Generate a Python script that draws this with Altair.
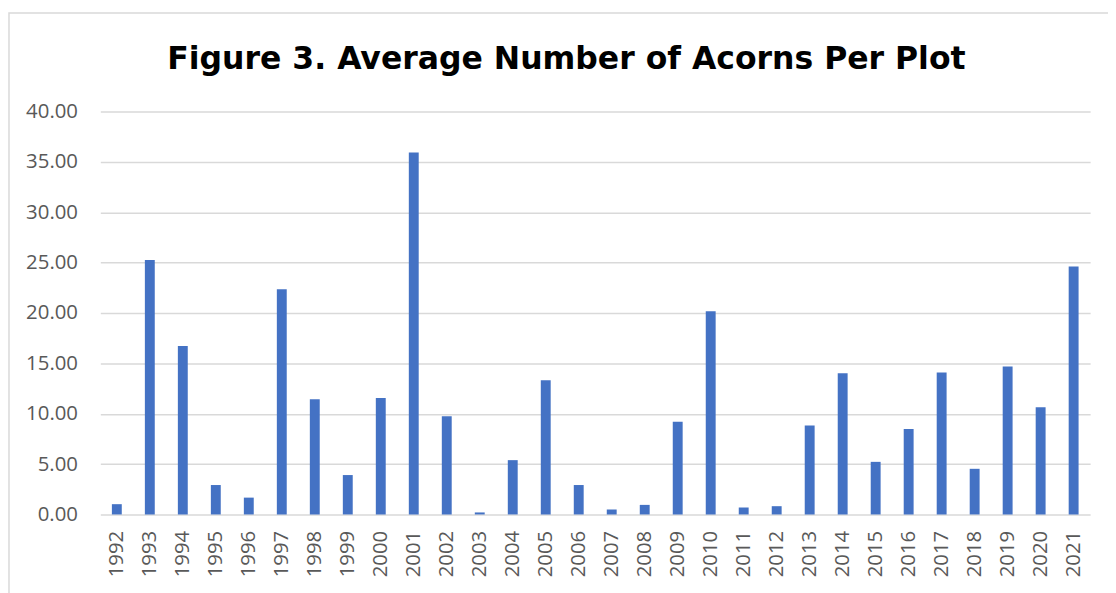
import altair as alt
import pandas as pd

years = [str(y) for y in range(1992, 2022)]
values = [1.02, 25.25, 16.72, 2.92, 1.67, 22.36, 11.43, 3.91, 11.56, 35.93,
          9.75, 0.20, 5.39, 13.33, 2.92, 0.49, 0.95, 9.20, 20.16, 0.69,
          0.82, 8.83, 14.02, 5.22, 8.47, 14.09, 4.53, 14.68, 10.64, 24.60]
y_ticks = [0, 5, 10, 15, 20, 25, 30, 35, 40]

df = pd.DataFrame({"Year": years, "Acorns": values})

W, H = 997, 406

border = alt.Chart(pd.DataFrame({"k": [0]})).mark_rect(
    filled=False, stroke="#d9d9d9", strokeWidth=1.5
).encode(
    x=alt.value(-92), x2=alt.value(W + 120),
    y=alt.value(-99), y2=alt.value(H + 150)
)

bars = alt.Chart(df).mark_bar(color="#4472C4").encode(
    x=alt.X("Year:N", sort=years, title=None,
            scale=alt.Scale(paddingInner=0.7, paddingOuter=0.35),
            axis=alt.Axis(labelAngle=-90, labelFontSize=20.5, labelColor="#595959",
                          labelFont="Open Sans", labelPadding=16, ticks=False,
                          domain=False, labelBaseline="middle", labelAlign="right")),
    y=alt.Y("Acorns:Q", title=None,
            scale=alt.Scale(domain=[0, 40], nice=False),
            axis=alt.Axis(values=y_ticks, format=".2f", labelFontSize=20.5,
                          labelColor="#595959", labelFont="Open Sans",
                          labelPadding=23, ticks=False, domain=False,
                          gridColor="#d9d9d9", gridWidth=1.5))
)

chart = alt.layer(border, bars).properties(
    width=W, height=H,
    autosize=alt.AutoSizeParams(type="none"),
    padding={"left": 93, "top": 102, "right": 18, "bottom": 80},
    title=alt.TitleParams("Figure 3. Average Number of Acorns Per Plot",
                          fontSize=31.7, font="DejaVu Sans", fontWeight="bold",
                          color="#000000", anchor="middle", frame="group",
                          baseline="alphabetic", offset=36, dx=-29, dy=125)
).configure_view(stroke=None)

chart.save("out.html", embed_options={"renderer": "svg", "actions": False})
